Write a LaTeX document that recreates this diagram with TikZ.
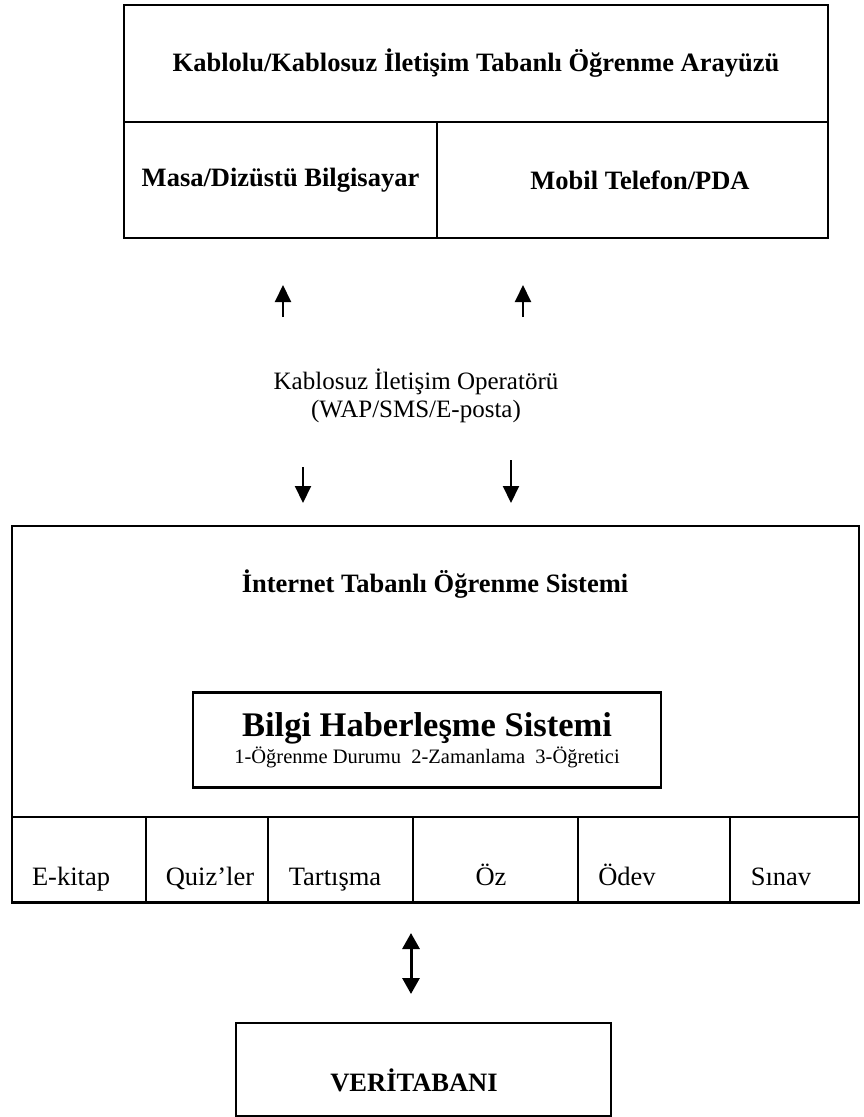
\documentclass[tikz,border=0pt]{standalone}
\usepackage{fontspec}
\setmainfont{Liberation Serif}
\usetikzlibrary{positioning,arrows.meta}

\begin{document}
\begin{tikzpicture}[
    x=1pt, y=-1pt,
    box/.style={draw, line width=1.6pt, inner sep=0pt, align=center},
    cell/.style={draw, line width=1.6pt, minimum height=85pt, inner sep=0pt},
    big/.style={font=\fontsize{26.5}{31}\selectfont\bfseries},
    txt/.style={font=\fontsize{26.5}{31}\selectfont, anchor=base},
    arrow/.style={-{Triangle[length=17pt,width=16pt]}, line width=2pt},
    dblarrow/.style={{Triangle[length=16pt,width=17pt]}-{Triangle[length=16pt,width=17pt]}, line width=3pt}
]
    \useasboundingbox (0,0) rectangle (863,1117);

    \node[box, big, minimum width=704pt, minimum height=117pt] (ui) at (476,63.5) {Kablolu/Kablosuz İletişim Tabanlı Öğrenme Arayüzü};
    \node[box, big, minimum width=313pt, minimum height=116pt] (pc) at (280.5,180) {Masa/Dizüstü Bilgisayar};
    \node[box, big, minimum width=391pt, minimum height=116pt] (mobil) at (632.5,180) {\hspace*{15pt}Mobil Telefon/PDA};

    \node[font=\fontsize{25}{28}\selectfont, align=center] (op) at (416,396) {Kablosuz İletişim Operatörü\\(WAP/SMS/E-posta)};

    \coordinate (up1) at (283,317);
    \coordinate (up1e) at (283,285);
    \coordinate (up2) at (523,317);
    \coordinate (up2e) at (523,285);
    \coordinate (dn1) at (303,467);
    \coordinate (dn1e) at (303,503);
    \coordinate (dn2) at (511,460);
    \coordinate (dn2e) at (511,503);

    \node[box, minimum width=847pt, minimum height=291pt] (lms) at (435.5,671.5) {};
    \node[big, anchor=base] (lmstitle) at (435,592) {İnternet Tabanlı Öğrenme Sistemi};
    \node[box, line width=2.4pt, minimum width=468pt, minimum height=95pt, font=\fontsize{20.5}{27}\selectfont] (bhs) at (427,740)
        {{\fontsize{34.5}{36}\selectfont\bfseries Bilgi Haberleşme Sistemi}\\1-Öğrenme Durumu~~2-Zamanlama~~3-Öğretici};

    \node[cell, minimum width=134pt] (ekitap) at (79,859.5) {};
    \node[cell, minimum width=122pt] (quiz) at (207,859.5) {};
    \node[cell, minimum width=145pt] (tartisma) at (340.5,859.5) {};
    \node[cell, minimum width=165pt] (oz) at (495.5,859.5) {};
    \node[cell, minimum width=152pt] (odev) at (654,859.5) {};
    \node[cell, minimum width=129pt] (sinav) at (794.5,859.5) {};
    \draw[line width=3pt] (ekitap.south west) -- (sinav.south east);

    \node[txt] (ekitapt) at (71,885) {E-kitap};
    \node[txt] (quizt) at (210,885) {Quiz’ler};
    \node[txt] (tartismat) at (335,885) {Tartışma};
    \node[txt] (ozt) at (491,885) {Öz};
    \node[txt] (odevt) at (627,885) {Ödev};
    \node[txt] (sinavt) at (781,885) {Sınav};

    \coordinate (dba) at (411,933);
    \coordinate (dbb) at (411,994);

    \node[box, minimum width=375pt, minimum height=93pt] (db) at (423.5,1069.5) {};
    \node[big, anchor=base] (dbt) at (414,1091) {VERİTABANI};

    \draw[arrow] (up1) -- (up1e);
    \draw[arrow] (up2) -- (up2e);
    \draw[arrow] (dn1) -- (dn1e);
    \draw[arrow] (dn2) -- (dn2e);
    \draw[dblarrow] (dba) -- (dbb);
\end{tikzpicture}
\end{document}
